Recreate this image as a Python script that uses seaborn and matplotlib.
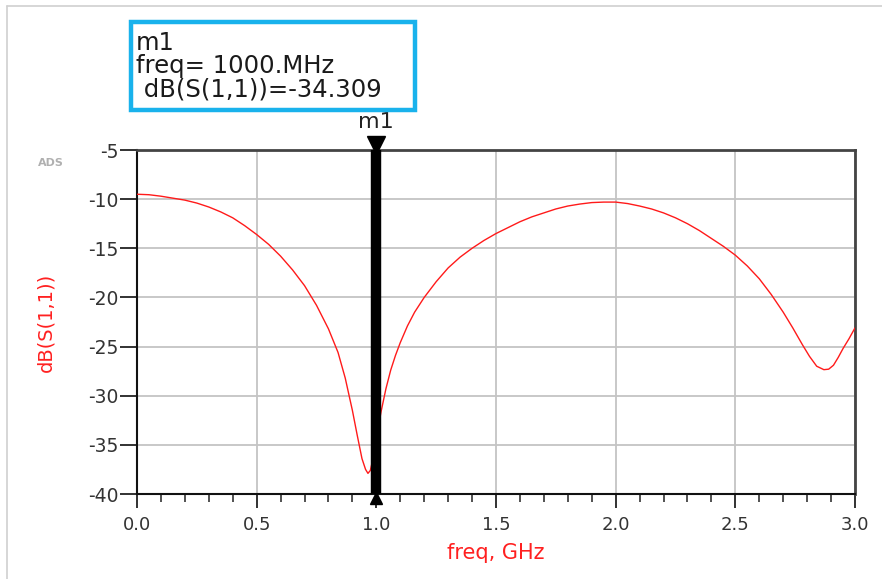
import numpy as np
import pandas as pd
import matplotlib
matplotlib.use("Agg")
import matplotlib.pyplot as plt
from matplotlib.lines import Line2D
from matplotlib.patches import Rectangle
from matplotlib.ticker import MultipleLocator
import seaborn as sns

# S11 sweep of the matched network
freq_ghz = [0.00, 0.05, 0.10, 0.15, 0.20, 0.25, 0.30, 0.35, 0.40, 0.45, 0.50,
            0.55, 0.60, 0.65, 0.70, 0.75, 0.80, 0.84, 0.87, 0.90, 0.92, 0.94,
            0.955, 0.965, 0.975, 0.985, 1.00, 1.02, 1.04, 1.06, 1.08, 1.10,
            1.13, 1.16, 1.20, 1.25, 1.30, 1.35, 1.40, 1.45, 1.50, 1.55, 1.60,
            1.65, 1.70, 1.75, 1.80, 1.85, 1.90, 1.95, 2.00, 2.05, 2.10, 2.15,
            2.20, 2.25, 2.30, 2.35, 2.40, 2.45, 2.50, 2.55, 2.60, 2.65, 2.70,
            2.74, 2.78, 2.81, 2.84, 2.87, 2.89, 2.91, 2.93, 2.95, 2.975, 3.00]
s11_db = [-9.5, -9.55, -9.7, -9.9, -10.1, -10.4, -10.8, -11.3, -11.9, -12.7, -13.6,
          -14.6, -15.8, -17.2, -18.8, -20.8, -23.2, -25.6, -28.2, -31.5, -34.0, -36.4,
          -37.5, -37.9, -37.6, -36.5, -34.309, -31.6, -29.3, -27.4, -25.9, -24.6,
          -22.9, -21.5, -20.0, -18.4, -17.0, -15.9, -15.0, -14.2, -13.5, -12.9, -12.3,
          -11.8, -11.4, -11.0, -10.7, -10.5, -10.35, -10.3, -10.3, -10.45, -10.7, -11.0,
          -11.4, -11.9, -12.5, -13.2, -14.0, -14.8, -15.7, -16.8, -18.1, -19.7, -21.5,
          -23.1, -24.8, -26.0, -27.0, -27.35, -27.3, -26.9, -26.1, -25.2, -24.2, -23.1]

# marker m1
marker_name = "m1"
marker_freq = 1.0
marker_label_freq = "1000.MHz"
marker_value = -34.309

x_ticks = [0.0, 0.5, 1.0, 1.5, 2.0, 2.5, 3.0]
y_ticks = [-40, -35, -30, -25, -20, -15, -10, -5]

df = pd.DataFrame({"freq": freq_ghz, "s11": s11_db})

sns.set_style("ticks")
plt.rcParams["font.family"] = ["DejaVu Sans"]

fig = plt.figure(figsize=(8.82, 5.79), dpi=100)
ax = fig.add_axes([137 / 882, 1 - 494 / 579, (855 - 137) / 882, (494 - 150) / 579])

sns.lineplot(data=df, x="freq", y="s11", color="#ff1a1a", linewidth=1.0,
             estimator=None, sort=True, ax=ax, zorder=3)

ax.set_xlim(0, 3)
ax.set_ylim(-40, -5)
ax.set_xticks(x_ticks)
ax.set_yticks(y_ticks)
ax.xaxis.set_minor_locator(MultipleLocator(0.1))
ax.set_xticklabels([f"{v:.1f}" for v in x_ticks])
ax.set_yticklabels([str(v) for v in y_ticks])

ax.grid(True, which="major", color="#c4c4c4", linewidth=1.3)
ax.set_axisbelow(True)

ax.tick_params(axis="x", which="major", bottom=True, top=False, direction="out",
               length=10, width=1.3, color="#222222", labelsize=13,
               labelcolor="#333333", pad=6)
ax.tick_params(axis="x", which="minor", bottom=True, top=False, direction="out",
               length=6, width=1.1, color="#222222")
ax.tick_params(axis="y", which="major", left=True, right=False, direction="out",
               length=12, width=1.3, color="#222222", labelsize=13.5,
               labelcolor="#333333", pad=1)
ax.tick_params(axis="y", which="minor", left=False, right=False)

for side in ["left", "bottom"]:
    ax.spines[side].set_color("#111111")
    ax.spines[side].set_linewidth(1.5)
for side in ["top", "right"]:
    ax.spines[side].set_visible(True)
    ax.spines[side].set_color("#444444")
    ax.spines[side].set_linewidth(2.0)

ax.set_xlabel("freq, GHz", color="#ff2020", fontsize=15, labelpad=6)
ax.set_ylabel("dB(S(1,1))", color="#ff2020", fontsize=14, labelpad=24)

# marker line with end glyphs
ax.axvline(marker_freq, color="black", linewidth=7.5, zorder=4)
ax.plot([marker_freq], [-4.45], marker="v", markersize=13, color="black",
        clip_on=False, zorder=5)
ax.plot([marker_freq], [-40.45], marker="^", markersize=9, color="black",
        clip_on=False, zorder=5)
ax.text(marker_freq, -2.2, marker_name, ha="center", va="center", fontsize=16,
        color="#222222", clip_on=False)

# marker readout box
fig.add_artist(Rectangle((131 / 882, 1 - 110 / 579), (415 - 131) / 882, (110 - 22) / 579,
                         transform=fig.transFigure, fill=False,
                         edgecolor="#19b2ec", linewidth=3.2))
readout = [marker_name, f"freq= {marker_label_freq}", f" dB(S(1,1))={marker_value:.3f}"]
for i, line in enumerate(readout):
    fig.text(136 / 882, 1 - (43 + 23.5 * i) / 579, line, ha="left", va="center",
             fontsize=17.5, color="#1a1a1a")

fig.text(51 / 882, 1 - 163 / 579, "ADS", ha="center", va="center",
         fontsize=8, color="#b0b0b0", fontweight="bold")

# outer panel edge
fig.add_artist(Line2D([7 / 882, 7 / 882], [0, 1 - 6 / 579], transform=fig.transFigure,
                      color="#d0d0d0", linewidth=1.2))
fig.add_artist(Line2D([7 / 882, 1], [1 - 6 / 579, 1 - 6 / 579], transform=fig.transFigure,
                      color="#d0d0d0", linewidth=1.2))

fig.savefig("out.png", dpi=100)
